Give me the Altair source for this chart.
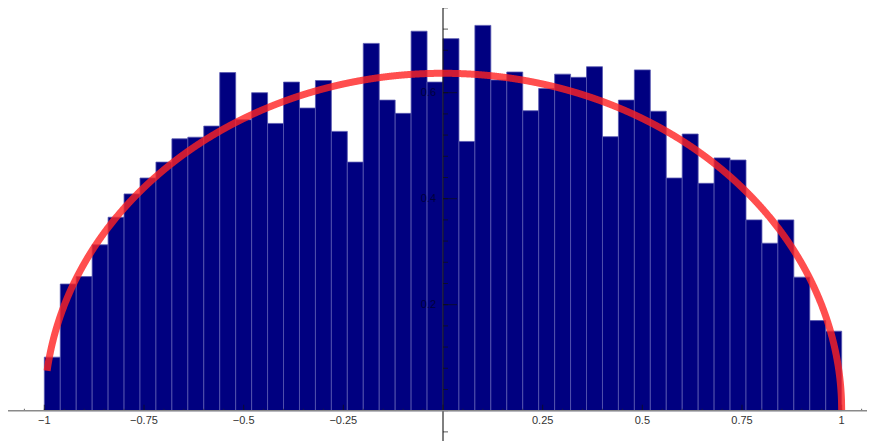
import altair as alt
import numpy as np
import pandas as pd

# ---- data ----
bin_edges = np.round(np.linspace(-1.0, 1.0, 51), 4)
densities = [0.101, 0.239, 0.253, 0.313, 0.365, 0.409, 0.439, 0.469, 0.513, 0.516,
             0.537, 0.638, 0.549, 0.600, 0.542, 0.620, 0.571, 0.623, 0.527, 0.469,
             0.693, 0.586, 0.561, 0.716, 0.620, 0.702, 0.508, 0.727, 0.624, 0.639,
             0.566, 0.608, 0.635, 0.629, 0.649, 0.517, 0.586, 0.643, 0.565, 0.439,
             0.522, 0.429, 0.477, 0.473, 0.360, 0.316, 0.360, 0.252, 0.170, 0.150]

x_label_values = [-1, -0.75, -0.5, -0.25, 0.25, 0.5, 0.75, 1]
x_label_texts = ["\u22121", "\u22120.75", "\u22120.5", "\u22120.25", "0.25", "0.5", "0.75", "1"]
x_major_ticks = [-1, -0.75, -0.5, -0.25, 0, 0.25, 0.5, 0.75, 1]
x_minor_ticks = [round(-1.05 + 0.05 * i, 2) for i in range(43)]
y_label_values = [0.2, 0.4, 0.6]
y_label_texts = ["0.2", "0.4", "0.6"]
y_minor_ticks = [round(-0.04 + 0.04 * i, 2) for i in range(21)]

bars = pd.DataFrame({"x0": bin_edges[:-1], "x1": bin_edges[1:], "d": densities, "z": 0.0})

W, H = 859, 433
xs = alt.Scale(domain=[-1.0911, 1.0635], nice=False, zero=False)
ys = alt.Scale(domain=[-0.0572, 0.7598], nice=False, zero=False)

X = lambda f: alt.X(f, scale=xs, axis=None)
Y = lambda f: alt.Y(f, scale=ys, axis=None)

bar_layer = alt.Chart(bars).mark_bar(
    color="#000080", stroke="#5858b0", strokeWidth=0.8
).encode(x=X("x0:Q"), x2="x1:Q", y=Y("d:Q"), y2="z:Q")

# semicircle law density (2/pi) sqrt(1 - x^2)
curve = alt.Chart(alt.sequence(-0.993, 1.0005, 0.0005, as_="s")).transform_calculate(
    x="min(datum.s, 1)"
).transform_calculate(
    y="2 / PI * sqrt(max(0, 1 - datum.x * datum.x))"
).mark_line(color="#ff2222", opacity=0.8, strokeWidth=7).encode(
    x=X("x:Q"), y=Y("y:Q")
)

zero = pd.DataFrame({"z": [0.0]})
x_axis_line = alt.Chart(zero).mark_rule(color="#8a8a8a", strokeWidth=1.6).encode(y=Y("z:Q"))
y_axis_line = alt.Chart(zero).mark_rule(color="#000000", strokeWidth=1).encode(x=X("z:Q"))

y_minor = alt.Chart(pd.DataFrame({"v": y_minor_ticks, "z": 0.0})).mark_tick(
    orient="horizontal", size=5, thickness=1, xOffset=2.5, color="#111"
).encode(x=X("z:Q"), y=Y("v:Q"))

y_major = alt.Chart(pd.DataFrame({"v": y_label_values, "z": 0.0})).mark_tick(
    orient="horizontal", size=14, thickness=1, xOffset=7, color="#111"
).encode(x=X("z:Q"), y=Y("v:Q"))

x_minor = alt.Chart(pd.DataFrame({"v": x_minor_ticks, "z": 0.0})).mark_tick(
    orient="vertical", size=2, thickness=1, yOffset=-1, color="#222"
).encode(x=X("v:Q"), y=Y("z:Q"))

x_major = alt.Chart(pd.DataFrame({"v": x_major_ticks, "z": 0.0})).mark_tick(
    orient="vertical", size=6, thickness=1, yOffset=-3, color="#111"
).encode(x=X("v:Q"), y=Y("z:Q"))

x_labels = alt.Chart(pd.DataFrame({"v": x_label_values, "t": x_label_texts, "z": 0.0})).mark_text(
    font="Liberation Sans", fontSize=11, color="#333", baseline="middle", align="center", dy=10.5
).encode(x=X("v:Q"), y=Y("z:Q"), text="t:N")

y_labels = alt.Chart(pd.DataFrame({"v": y_label_values, "t": y_label_texts, "z": 0.0})).mark_text(
    font="Liberation Sans", fontSize=11, color="#000", opacity=0.55,
    baseline="middle", align="right", dx=-7
).encode(x=X("z:Q"), y=Y("v:Q"), text="t:N")

chart = alt.layer(
    bar_layer, y_axis_line, y_minor, y_major, x_minor, x_major, y_labels,
    curve, x_axis_line, x_labels
).properties(
    width=W, height=H, padding=0, autosize="none", background="white"
).configure_view(stroke=None)

chart.save("out.html", embed_options={"renderer": "svg", "actions": False})
